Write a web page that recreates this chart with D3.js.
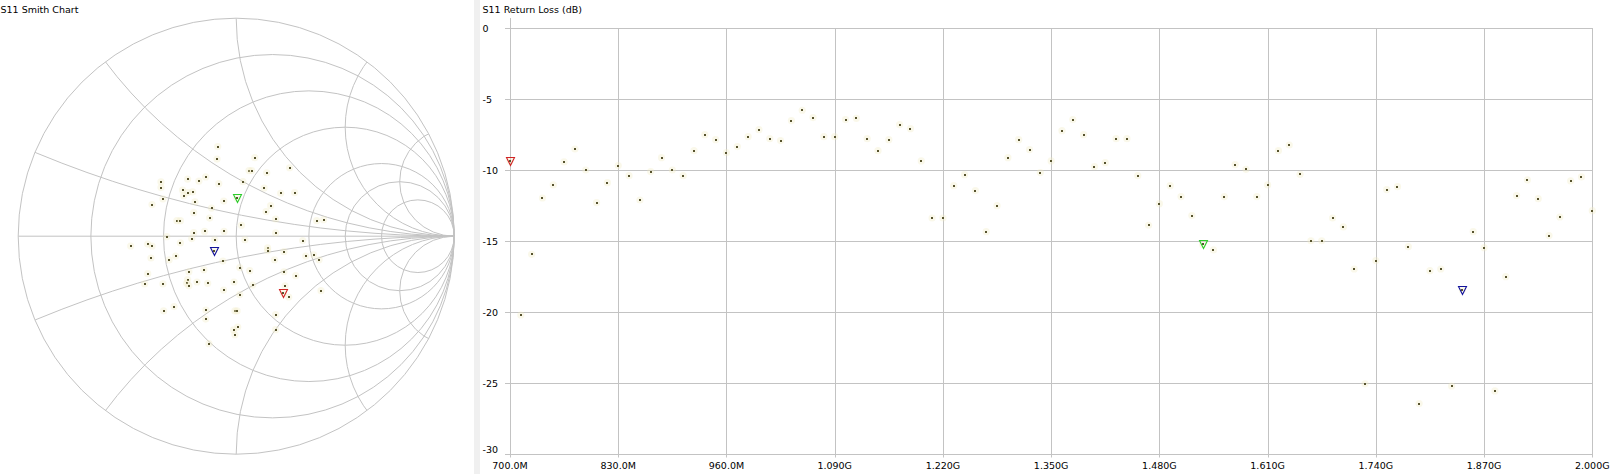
<!DOCTYPE html>
<html><head><meta charset="utf-8">
<script src="https://cdn.jsdelivr.net/npm/d3@7"></script>
<style>
html,body{margin:0;padding:0;background:#fff;overflow:hidden;}
svg{display:block;}
text{font-family:"DejaVu Sans",Verdana,sans-serif;font-size:9.5px;fill:#000;}
</style></head><body>
<svg id="chart" width="1611" height="474"></svg>
<script>
// ---------- data ----------
const freqMHz = [700,713,726,739,752,765,778,791,804,817,830,843,856,869,882,895,908,921,934,947,960,973,986,999,1012,1025,1038,1051,1064,1077,1090,1103,1116,1129,1142,1155,1168,1181,1194,1207,1220,1233,1246,1259,1272,1285,1298,1311,1324,1337,1350,1363,1376,1389,1402,1415,1428,1441,1454,1467,1480,1493,1506,1519,1532,1545,1558,1571,1584,1597,1610,1623,1636,1649,1662,1675,1688,1701,1714,1727,1740,1753,1766,1779,1792,1805,1818,1831,1844,1857,1870,1883,1896,1909,1922,1935,1948,1961,1974,1987,2000];
const returnLossDb = [-9.34,-20.19,-15.92,-11.95,-11.03,-9.41,-8.50,-9.98,-12.28,-10.87,-9.67,-10.38,-12.09,-10.09,-9.11,-9.98,-10.38,-8.62,-7.49,-7.84,-8.76,-8.33,-7.63,-7.14,-7.77,-7.91,-6.50,-5.77,-6.29,-7.63,-7.63,-6.43,-6.34,-7.77,-8.62,-7.84,-6.78,-7.07,-9.34,-13.36,-13.36,-11.08,-10.31,-11.43,-14.32,-12.49,-9.11,-7.84,-8.54,-10.16,-9.34,-7.21,-6.43,-7.49,-9.74,-9.46,-7.77,-7.77,-10.38,-13.87,-12.35,-11.08,-11.85,-13.19,-15.22,-15.61,-11.85,-9.60,-9.93,-11.85,-11.03,-8.62,-8.22,-10.28,-14.96,-14.96,-13.36,-13.99,-16.95,-25.04,-16.36,-11.36,-11.15,-15.38,-26.43,-17.07,-16.95,-25.19,-18.43,-14.32,-15.45,-25.54,-17.49,-11.78,-10.68,-12.00,-14.60,-13.29,-10.75,-10.47,-12.84];
const xTickMHz = [700,830,960,1090,1220,1350,1480,1610,1740,1870,2000];
const xTickLabels = ["700.0M","830.0M","960.0M","1.090G","1.220G","1.350G","1.480G","1.610G","1.740G","1.870G","2.000G"];
const yTicksDb = [0,-5,-10,-15,-20,-25,-30];
const yTickLabels = ["0","-5","-10","-15","-20","-25","-30"];

// Smith chart reflection coefficients
const smithRe = [-0.085,-0.088,-0.345,-0.345,-0.223,-0.171,-0.140,-0.080,-0.246,-0.223,-0.200,-0.241,-0.336,-0.386,-0.189,-0.057,-0.113,-0.195,-0.122,-0.272,-0.256,-0.195,-0.145,-0.056,
 0.085,0.059,0.071,0.140,0.245,0.031,0.128,0.204,0.268,0.158,0.137,0.181,0.369,0.401,0.024,0.181,
 -0.319,-0.204,-0.099,-0.256,-0.484,-0.406,-0.386,-0.278,-0.391,-0.308,-0.061,0.016,-0.148,-0.217,-0.406,-0.223,-0.227,-0.217,-0.180,-0.131,-0.010,-0.420,-0.336,-0.058,0.016,-0.333,-0.285,-0.139,-0.140,-0.006,0.004,0.007,-0.012,-0.006,-0.125,
 0.040,0.305,0.144,0.144,0.219,0.319,0.355,0.380,0.176,0.062,0.219,0.273,0.076,0.224,0.241,0.389,0.181,0.181,
 0.004,-0.102,0.216];
const smithIm = [0.411,0.354,0.249,0.223,0.262,0.253,0.272,0.241,0.212,0.200,0.203,0.186,0.171,0.145,0.157,0.161,0.129,0.108,0.083,0.071,0.071,0.016,0.022,0.022,
 0.360,0.301,0.301,0.291,0.314,0.250,0.221,0.197,0.200,0.140,0.113,0.079,0.071,0.076,0.050,0.015,
 -0.002,-0.011,-0.017,-0.031,-0.045,-0.036,-0.045,-0.091,-0.100,-0.109,-0.114,-0.144,-0.154,-0.163,-0.172,-0.199,-0.216,-0.227,-0.210,-0.216,-0.210,-0.219,-0.219,-0.247,-0.268,-0.343,-0.323,-0.339,-0.380,-0.343,-0.343,-0.417,-0.430,-0.452,-0.493,
 -0.016,-0.020,-0.054,-0.066,-0.071,-0.091,-0.085,-0.108,-0.108,-0.158,-0.163,-0.181,-0.224,-0.228,-0.279,-0.250,-0.360,-0.429,
 0.174,-0.066,-0.262];

const resistanceValues = [0.2,0.5,1,2,3,5];
const reactanceValues = [0.2,0.5,1,2,4];

const markerFreqMHz = [700,1532,1844];
const markerColors = ["#d02424","#2ccc2c","#12129c"];
const markerRe = [0.216,0.004,-0.102];
const markerIm = [-0.262,0.174,-0.066];

// ---------- drawing ----------
const svg = d3.select("#chart");
const gridColor = "#c3c3c3";
const dotColor = "#57532e";

svg.append("rect").attr("x",0).attr("y",0).attr("width",1611).attr("height",474).attr("fill","#fff");
svg.append("rect").attr("x",474).attr("y",0).attr("width",6).attr("height",474).attr("fill","#f0f0f0");

function drawDot(g, px, py){
  g.append("circle").attr("cx",px).attr("cy",py).attr("r",3.6).attr("fill","#f2ebc2").attr("opacity",0.35);
  g.append("rect").attr("x",Math.round(px)-1).attr("y",Math.round(py)-1).attr("width",2).attr("height",2).attr("fill",dotColor);
}
function drawMarker(g, px, py, color){
  const s = 4;
  const X = Math.round(px)+0.5, Y = Math.round(py)+0.5;
  g.append("path")
    .attr("d",`M${X},${Y+s}L${X-s},${Y-s}L${X+s},${Y-s}Z`)
    .attr("fill","none").attr("stroke",color).attr("stroke-width",1.1);
}

// ===== Smith chart =====
const cx = 236.2, cy = 236.2, R = 218;
const gx = d3.scaleLinear().domain([-1,1]).range([cx-R,cx+R]);
const gy = d3.scaleLinear().domain([-1,1]).range([cy+R,cy-R]);
const unit = R; // px per unit of gamma

svg.append("text").attr("x",0.5).attr("y",13).text("S11 Smith Chart");

const defs = svg.append("defs");
defs.append("clipPath").attr("id","unitDisk").append("circle").attr("cx",gx(0)).attr("cy",gy(0)).attr("r",R);

const sg = svg.append("g").attr("fill","none").attr("stroke",gridColor).attr("stroke-width",1);
sg.append("circle").attr("cx",gx(0)).attr("cy",gy(0)).attr("r",R);
sg.append("line").attr("x1",gx(-1)).attr("x2",gx(1)).attr("y1",gy(0)).attr("y2",gy(0));
sg.selectAll("circle.r").data(resistanceValues).join("circle").attr("class","r")
  .attr("cx",r=>gx(r/(r+1))).attr("cy",gy(0)).attr("r",r=>unit/(r+1));
const xs = reactanceValues.flatMap(v=>[v,-v]);
sg.append("g").attr("clip-path","url(#unitDisk)").selectAll("circle").data(xs).join("circle")
  .attr("cx",gx(1)).attr("cy",v=>gy(1/v)).attr("r",v=>unit/Math.abs(v));

const sd = svg.append("g");
smithRe.forEach((re,i)=>drawDot(sd, gx(re), gy(smithIm[i])));
markerRe.forEach((re,i)=>drawMarker(sd, gx(re), gy(markerIm[i]), markerColors[i]));

// ===== Return loss chart =====
const x = d3.scaleLinear().domain([700,2000]).range([510,1592.3]);
const y = d3.scaleLinear().domain([0,-30]).range([28.3,454.3]);
const px = v=>Math.round(x(v))+0.5, py = v=>Math.round(y(v))+0.5;

svg.append("text").attr("x",482.5).attr("y",13).text("S11 Return Loss (dB)");

const lg = svg.append("g").attr("stroke",gridColor).attr("stroke-width",1);
lg.selectAll("line.h").data(yTicksDb).join("line").attr("class","h")
  .attr("x1",505).attr("x2",px(2000)+0.5).attr("y1",d=>py(d)).attr("y2",d=>py(d));
lg.selectAll("line.v").data(xTickMHz).join("line").attr("class","v")
  .attr("x1",d=>px(d)).attr("x2",d=>px(d))
  .attr("y1",(d,i)=>i===0?18:py(0)).attr("y2",py(-30)+3);

svg.append("g").selectAll("text").data(yTicksDb).join("text")
  .attr("x",482.5).attr("y",(d,i)=> i===yTicksDb.length-1 ? y(d)-1 : y(d)+3.5)
  .text((d,i)=>yTickLabels[i]);
svg.append("g").selectAll("text").data(xTickMHz).join("text")
  .attr("x",d=>x(d)).attr("y",469).attr("text-anchor","middle")
  .text((d,i)=>xTickLabels[i]);

const ld = svg.append("g");
freqMHz.forEach((f,i)=>drawDot(ld, x(f), y(returnLossDb[i])));
markerFreqMHz.forEach((f,i)=>{
  const idx = freqMHz.indexOf(f);
  drawMarker(ld, x(f), y(returnLossDb[idx]), markerColors[i]);
});
</script>
</body></html>
